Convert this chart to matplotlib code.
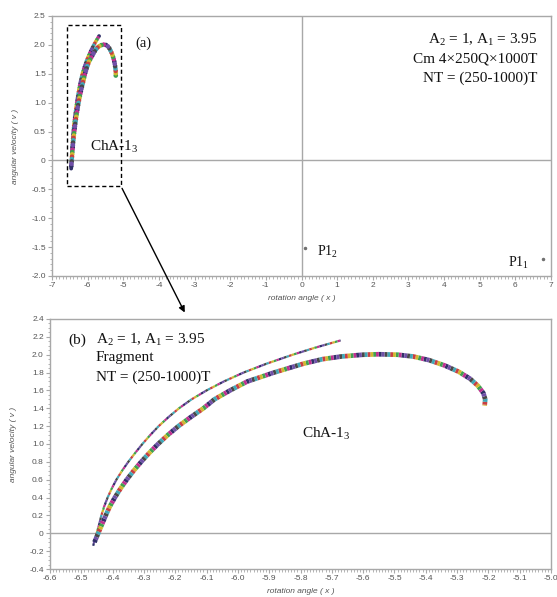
import numpy as np
import matplotlib
matplotlib.use("Agg")
import matplotlib.pyplot as plt
from matplotlib.ticker import MultipleLocator, FixedLocator, FixedFormatter
from matplotlib.patches import Rectangle

plt.rcParams["font.family"] = "Liberation Sans"
plt.rcParams["mathtext.fontset"] = "custom"
plt.rcParams["mathtext.rm"] = "Liberation Serif"

# attractor ChA-1_3, outer branch (ends at the upper tip)
outer_x = [-6.462, -6.457, -6.451, -6.443, -6.436, -6.427, -6.416, -6.403, -6.388, -6.370,
           -6.350, -6.328, -6.305, -6.280, -6.253, -6.222, -6.188, -6.148, -6.100, -6.045,
           -5.982, -5.908, -5.825, -5.752, -5.672]
outer_y = [-0.14, -0.07, 0.0, 0.1, 0.2, 0.3, 0.4, 0.5, 0.6, 0.7,
           0.8, 0.9, 1.0, 1.1, 1.2, 1.3, 1.4, 1.5, 1.6, 1.7,
           1.8, 1.9, 2.0, 2.08, 2.16]

# inner branch, goes over the top and turns down near x = -5.2
inner_x = [-6.458, -6.446, -6.434, -6.422, -6.409, -6.393, -6.375, -6.355, -6.333, -6.309,
           -6.283, -6.255, -6.224, -6.190, -6.151, -6.110, -6.075, -6.025, -5.970, -5.885,
           -5.790, -5.730, -5.670, -5.600, -5.550, -5.490, -5.440, -5.390, -5.340, -5.295,
           -5.258, -5.233, -5.216, -5.210, -5.212]
inner_y = [-0.10, 0.0, 0.1, 0.2, 0.3, 0.4, 0.5, 0.6, 0.7, 0.8,
           0.9, 1.0, 1.1, 1.2, 1.3, 1.4, 1.5, 1.6, 1.7, 1.8,
           1.9, 1.95, 1.98, 2.0, 2.005, 2.0, 1.98, 1.94, 1.88, 1.81,
           1.73, 1.65, 1.57, 1.50, 1.43]

# fixed points P1_1 and P1_2
p1_x = [6.78, 0.10]
p1_y = [-1.71, -1.52]

top_xticks = list(range(-7, 8))
top_xlabels = [str(v) for v in top_xticks]
top_yticks = [-2.0, -1.5, -1.0, -0.5, 0, 0.5, 1.0, 1.5, 2.0, 2.5]
bot_xticks = [round(-6.6 + 0.1 * i, 1) for i in range(17)]
bot_yticks = [round(-0.4 + 0.2 * i, 1) for i in range(15)]

colors = ["#303068", "#c03090", "#40a050", "#d0b830", "#c84040", "#40a8b8", "#484848", "#7050a8"]
gray = "#a8a8a8"
tcol = "#555555"

W, H = 557, 597
def fx(px):
    return px / W
def fy(py):
    return 1 - py / H

fig = plt.figure(figsize=(W / 100, H / 100), dpi=100)
ax1 = fig.add_axes([fx(52), fy(276), 499 / W, 260 / H])
ax2 = fig.add_axes([fx(50), fy(569), 501 / W, 250 / H])

def num(v):
    return "0" if v == 0 else "%.1f" % v

def style(ax, xt, xl, yt, xminor, yminor):
    for s in ax.spines.values():
        s.set_color(gray)
        s.set_linewidth(1)
    ax.xaxis.set_major_locator(FixedLocator(xt))
    ax.yaxis.set_major_locator(FixedLocator(yt))
    ax.xaxis.set_major_formatter(FixedFormatter(xl))
    ax.yaxis.set_major_formatter(FixedFormatter([num(v) for v in yt]))
    ax.xaxis.set_minor_locator(MultipleLocator(xminor))
    ax.yaxis.set_minor_locator(MultipleLocator(yminor))
    ax.tick_params(which="both", direction="out", color=gray, labelcolor=tcol, labelsize=6, pad=1.5)
    ax.tick_params(which="major", length=3, width=0.8)
    ax.tick_params(which="minor", length=1.8, width=0.6)
    ax.set_xlabel("rotation angle ( x )", fontsize=6, style="italic", color=tcol, labelpad=4)
    ax.set_ylabel("angular velocity ( v )", fontsize=6, style="italic", color=tcol, labelpad=9)

def band(ax, x, y, lw, seg, dotted):
    n = len(colors)
    for i, c in enumerate(colors):
        if dotted:
            ax.plot(x, y, color=c, lw=lw, linestyle=(i * seg, (0.01, seg * n - 0.01)),
                    dash_capstyle="round", solid_joinstyle="round", zorder=3)
        else:
            ax.plot(x, y, color=c, lw=lw, linestyle=(i * seg, (seg, seg * (n - 1))),
                    solid_joinstyle="round", zorder=3)

# (a) whole phase plane
ax1.axhline(0, color=gray, lw=1, zorder=1)
ax1.axvline(0, color=gray, lw=1, zorder=1)
band(ax1, outer_x, outer_y, 2.8, 0.55, True)
band(ax1, inner_x, inner_y, 3.4, 0.5, True)
ax1.plot(p1_x, p1_y, "o", color="#707070", ms=1.5, zorder=3)
ax1.set_xlim(-7, 7)
ax1.set_ylim(-2.0, 2.5)
style(ax1, top_xticks, top_xlabels, top_yticks, 0.1, 0.1)
ax1.add_patch(Rectangle((-6.59, -0.44), 1.52, 2.78, fill=False, ec="black", lw=1,
                        linestyle=(0, (3, 2)), zorder=4))

# (b) fragment
ax2.axhline(0, color=gray, lw=1, zorder=1)
band(ax2, outer_x, outer_y, 1.6, 1.2, False)
band(ax2, inner_x, inner_y, 3.4, 0.6, False)
ax2.set_xlim(-6.6, -5.0)
ax2.set_ylim(-0.4, 2.4)
style(ax2, bot_xticks, [num(v) for v in bot_xticks], bot_yticks, 0.01, 0.05)

# arrow from the box to panel (b)
ax1.annotate("", xy=(fx(186), fy(315)), xycoords="figure fraction",
             xytext=(-5.07, -0.44), textcoords="data",
             arrowprops=dict(arrowstyle="-|>", color="black", lw=1, mutation_scale=9),
             annotation_clip=False)

serif = dict(family="Liberation Serif", color="#111111")
fig.text(fx(135), fy(43), "(a)", fontsize=10.5, va="center", **serif)
fig.text(fx(537), fy(40), r"$\mathregular{A_2}$ = 1, $\mathregular{A_1}$ = 3.95", fontsize=11, ha="right", va="center", **serif)
fig.text(fx(537), fy(59), "Cm 4×250Q×1000T", fontsize=11, ha="right", va="center", **serif)
fig.text(fx(537), fy(78), "NT = (250-1000)T", fontsize=11, ha="right", va="center", **serif)
fig.text(fx(90), fy(147), r"ChA-$\mathregular{1_3}$", fontsize=11, va="center", **serif)
fig.text(fx(317), fy(252), r"P$\mathregular{1_2}$", fontsize=10, va="center", **serif)
fig.text(fx(508), fy(263), r"P$\mathregular{1_1}$", fontsize=10, va="center", **serif)

fig.text(fx(68), fy(340), "(b)", fontsize=11, va="center", **serif)
fig.text(fx(96), fy(340), r"$\mathregular{A_2}$ = 1, $\mathregular{A_1}$ = 3.95", fontsize=11, va="center", **serif)
fig.text(fx(96), fy(358), "Fragment", fontsize=11, va="center", **serif)
fig.text(fx(96), fy(377), "NT = (250-1000)T", fontsize=11, va="center", **serif)
fig.text(fx(302), fy(434), r"ChA-$\mathregular{1_3}$", fontsize=11, va="center", **serif)

fig.savefig("out.png", dpi=100)
